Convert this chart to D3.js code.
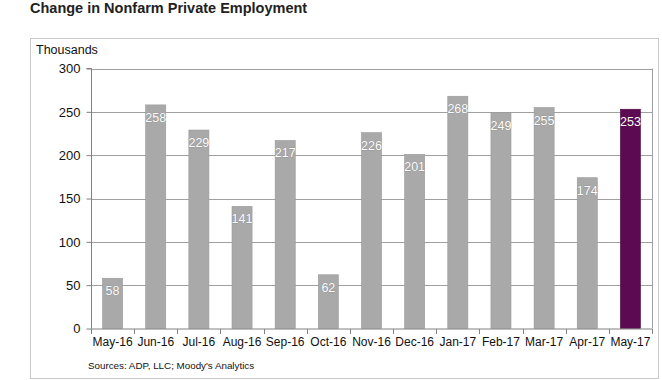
<!DOCTYPE html>
<html><head><meta charset="utf-8">
<script src="https://cdn.jsdelivr.net/npm/d3@7"></script>
<style>body{margin:0;background:#fff}svg{display:block;font-family:"Liberation Sans",Arial,sans-serif}</style>
</head><body>
<script>
const categories = ["May-16","Jun-16","Jul-16","Aug-16","Sep-16","Oct-16","Nov-16","Dec-16","Jan-17","Feb-17","Mar-17","Apr-17","May-17"];
const values = [58,258,229,141,217,62,226,201,268,249,255,174,253];
const yTicks = [0,50,100,150,200,250,300];
const title = "Change in Nonfarm Private Employment";
const unitLabel = "Thousands";
const source = "Sources: ADP, LLC; Moody's Analytics";

const W = 662, H = 380;
const svg = d3.select("body").append("svg").attr("width", W).attr("height", H);

svg.append("text").attr("x", 30).attr("y", 12.5).attr("font-size", 14.5).attr("font-weight", "bold")
  .attr("fill", "#222").text(title);

svg.append("rect").attr("x", 30.5).attr("y", 38.5).attr("width", 628).attr("height", 340)
  .attr("fill", "#fff").attr("stroke", "#c8c8c8");

const m = {left: 91, right: 652, top: 68.5, bottom: 328.5};
const x = d3.scaleBand().domain(categories).range([m.left, m.right]).paddingInner(0.535).paddingOuter(0.2675);
const y = d3.scaleLinear().domain([0, 300]).range([m.bottom, m.top]);

// gridlines
svg.append("g").selectAll("line").data(yTicks.filter(d => d > 0)).join("line")
  .attr("x1", m.left).attr("x2", m.right)
  .attr("y1", d => Math.round(y(d)) + 0.5).attr("y2", d => Math.round(y(d)) + 0.5)
  .attr("stroke", "#a0a0a0");
svg.append("line").attr("x1", m.right + 0.5).attr("x2", m.right + 0.5).attr("y1", m.top).attr("y2", m.bottom)
  .attr("stroke", "#a0a0a0");

// bars
svg.append("g").selectAll("rect").data(values).join("rect")
  .attr("x", (d, i) => x(categories[i]))
  .attr("width", x.bandwidth())
  .attr("y", d => y(d))
  .attr("height", d => y(0) - y(d))
  .attr("fill", (d, i) => i === values.length - 1 ? "#5c0a52" : "#a9a9a9")
  .attr("stroke", (d, i) => i === values.length - 1 ? "#4a0842" : "#999")
  .attr("stroke-width", 0.6);

// value labels
svg.append("g").selectAll("text").data(values).join("text")
  .attr("x", (d, i) => x(categories[i]) + x.bandwidth() / 2)
  .attr("y", d => y(d) + 17)
  .attr("text-anchor", "middle").attr("font-size", 12.5).attr("fill", "#fff")
  .attr("stroke", "rgba(0,0,0,0.25)").attr("stroke-width", 0.6).attr("paint-order", "stroke")
  .text(d => d);

// y axis
const yAxis = d3.axisLeft(y).tickValues(yTicks).tickSize(5).tickPadding(6);
const gy = svg.append("g").attr("transform", `translate(${m.left + 0.5},0)`).call(yAxis);
gy.select(".domain").attr("stroke", "#808080").attr("d", `M-5,${m.top}H0V${m.bottom}`);
gy.selectAll(".tick line").attr("stroke", "#808080");
gy.selectAll(".tick text").attr("font-size", 13).attr("fill", "#111").attr("font-family", "Liberation Sans, Arial, sans-serif");

// x axis
const gx = svg.append("g").attr("transform", `translate(0,${m.bottom + 0.5})`);
gx.append("line").attr("x1", m.left).attr("x2", m.right).attr("stroke", "#808080");
const bounds = d3.range(categories.length + 1).map(i => m.left + i * (m.right - m.left) / categories.length);
gx.selectAll("line.t").data(bounds).join("line").attr("class", "t")
  .attr("x1", d => Math.round(d) + 0.5).attr("x2", d => Math.round(d) + 0.5)
  .attr("y1", 0).attr("y2", 5).attr("stroke", "#808080");
gx.selectAll("text").data(categories).join("text")
  .attr("x", d => x(d) + x.bandwidth() / 2).attr("y", 17)
  .attr("text-anchor", "middle").attr("font-size", 12).attr("fill", "#111").text(d => d);

svg.append("text").attr("x", 36).attr("y", 54).attr("font-size", 12.5).attr("fill", "#111").text(unitLabel);
svg.append("text").attr("x", 88).attr("y", 369).attr("font-size", 9.8).attr("fill", "#111").text(source);
</script>
</body></html>
